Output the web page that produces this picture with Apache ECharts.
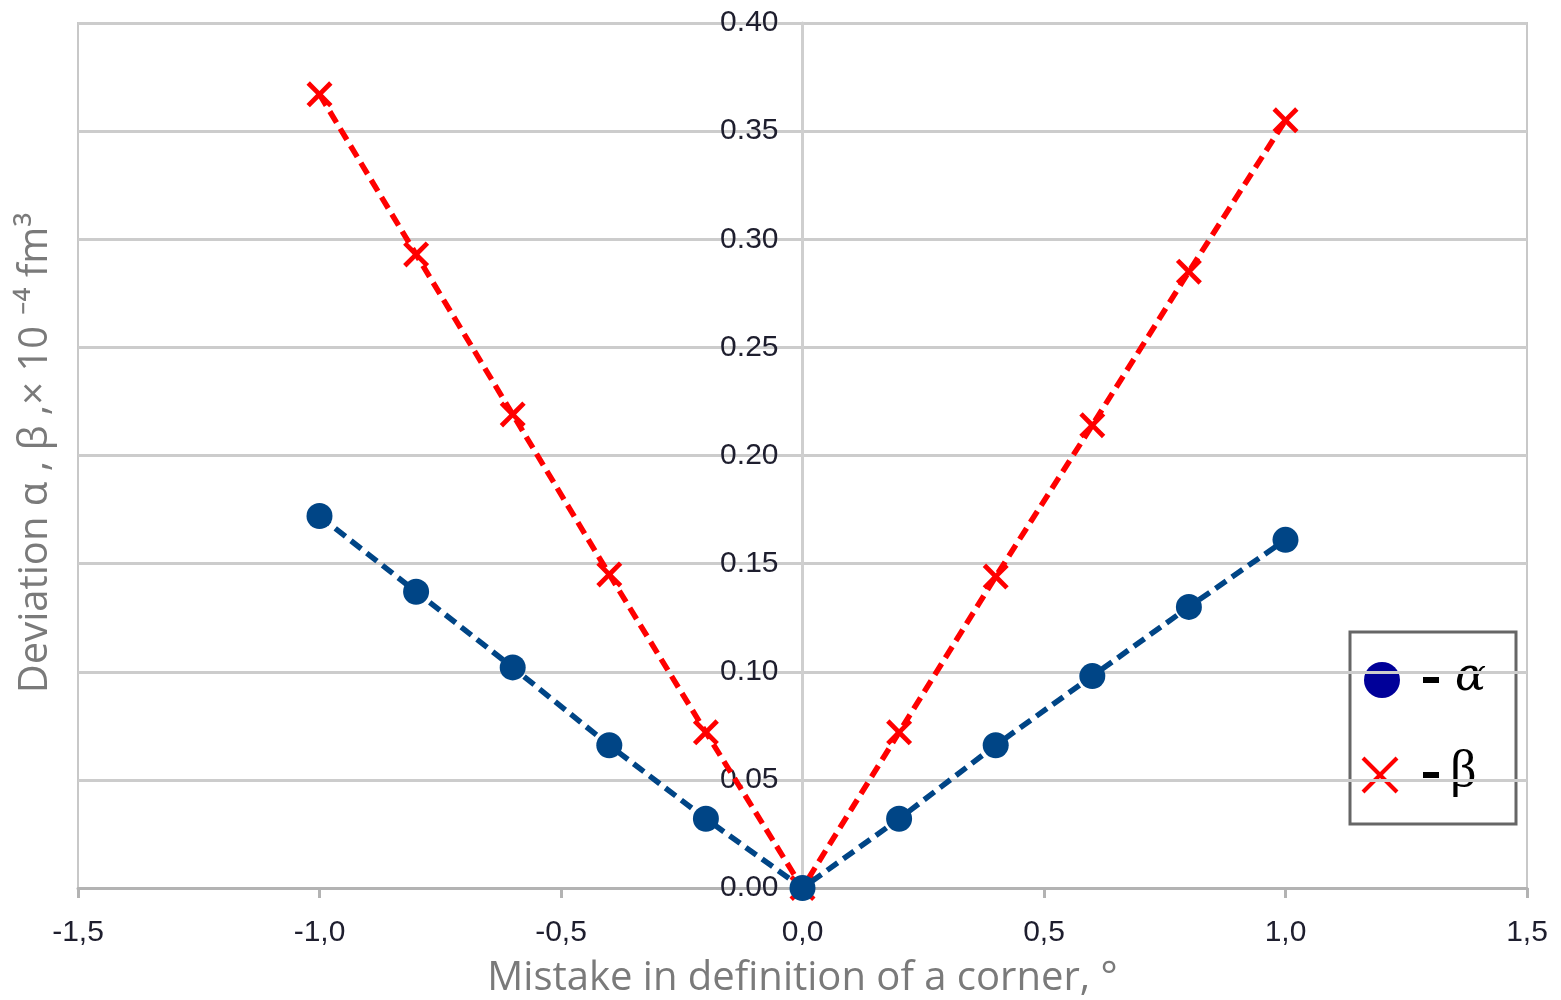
<!DOCTYPE html>
<html>
<head>
<meta charset="utf-8">
<script src="https://cdn.jsdelivr.net/npm/echarts@6/dist/echarts.min.js"></script>
<style>
  html, body { margin: 0; padding: 0; background: #fff; }
  #chart { width: 1561px; height: 1000px; }
</style>
</head>
<body>
<div id="chart"></div>
<script>
// Angle error (degrees)
const angleErrors = [-1.0, -0.8, -0.6, -0.4, -0.2, 0.0, 0.2, 0.4, 0.6, 0.8, 1.0];
// Deviation of alpha, x 10^-4 fm^3
const alphaValues = [0.172, 0.137, 0.102, 0.066, 0.032, 0.0, 0.032, 0.066, 0.098, 0.130, 0.161];
// Deviation of beta, x 10^-4 fm^3
const betaValues  = [0.367, 0.293, 0.219, 0.145, 0.072, 0.0, 0.072, 0.144, 0.214, 0.285, 0.355];

const xTickFormat = v => v.toFixed(1).replace('.', ',');
const yTickFormat = v => v.toFixed(2);

const pairs = (xs, ys) => xs.map((x, i) => [x, ys[i]]);

// filled "x" glyph used as the beta marker
const crossPath = 'path://M0,1.3L1.3,0L5,3.7L8.7,0L10,1.3L6.3,5L10,8.7L8.7,10L5,6.3L1.3,10L0,8.7L3.7,5Z';

const GRID_LEFT = 78, GRID_RIGHT = 34;
const plotWidth = 1561 - GRID_LEFT - GRID_RIGHT;

const chart = echarts.init(document.getElementById('chart'));
chart.setOption({
  animation: false,
  backgroundColor: '#ffffff',
  grid: {
    left: GRID_LEFT, right: GRID_RIGHT, top: 23, bottom: 112,
    outerBoundsMode: 'none',
    containLabel: false,
    show: true, borderColor: '#c8c8c8', borderWidth: 2
  },
  xAxis: {
    type: 'value',
    min: -1.5, max: 1.5, interval: 0.5,
    name: 'Mistake in definition of a corner, °',
    nameLocation: 'middle',
    nameGap: 71,
    nameTextStyle: { color: '#7a7a7a', fontSize: 40, fontFamily: 'Open Sans' },
    axisLine: { onZero: false, lineStyle: { color: '#b3b3b3', width: 3 } },
    axisTick: { show: true, length: 10, lineStyle: { color: '#b3b3b3', width: 3 } },
    axisLabel: { formatter: xTickFormat, color: '#1e1e2e', fontSize: 30, fontFamily: 'Liberation Sans', margin: 30 },
    splitLine: { show: false }
  },
  yAxis: {
    type: 'value',
    min: 0, max: 0.4, interval: 0.05,
    // vertical axis drawn through x = 0, in the middle of the plot
    offset: -plotWidth / 2,
    axisLine: { show: true, onZero: false, lineStyle: { color: '#cfcfcf', width: 3 } },
    axisTick: { show: false },
    axisLabel: { formatter: yTickFormat, color: '#1e1e2e', fontSize: 30, fontFamily: 'Liberation Sans', margin: 24 },
    splitLine: { show: true, lineStyle: { color: '#cccccc', width: 3 } }
  },
  graphic: [
    {
      type: 'text',
      x: 36, y: 453,
      rotation: Math.PI / 2,
      style: {
        text: 'Deviation α , β ,× 10 ⁻⁴ fm³',
        fill: '#7a7a7a',
        fontSize: 40,
        fontFamily: 'Open Sans',
        align: 'center',
        verticalAlign: 'middle'
      }
    },
    {
      type: 'group',
      x: 1350, y: 632,
      children: [
        { type: 'rect', shape: { x: 0, y: 0, width: 166, height: 192 },
          style: { fill: '#ffffff', stroke: '#666666', lineWidth: 3 } },
        { type: 'circle', shape: { cx: 32, cy: 48, r: 18 }, style: { fill: '#000099' } },
        { type: 'rect', shape: { x: 73, y: 45, width: 16, height: 6 }, style: { fill: '#000' } },
        { type: 'text', x: 105, y: 46, style: { text: 'α', fill: '#000', fontSize: 46, fontStyle: 'italic', fontFamily: 'DejaVu Serif', verticalAlign: 'middle' } },
        { type: 'line', shape: { x1: 13, y1: 126, x2: 47, y2: 160 }, style: { stroke: '#ff0000', lineWidth: 4 } },
        { type: 'line', shape: { x1: 47, y1: 126, x2: 13, y2: 160 }, style: { stroke: '#ff0000', lineWidth: 4 } },
        { type: 'rect', shape: { x: 73, y: 140, width: 16, height: 6 }, style: { fill: '#000' } },
        { type: 'text', x: 100, y: 140, style: { text: 'β', fill: '#000', fontSize: 52, fontFamily: 'Liberation Serif', verticalAlign: 'middle' } }
      ]
    }
  ],
  series: [
    {
      name: 'alpha',
      type: 'line',
      data: pairs(angleErrors, alphaValues),
      symbol: 'circle',
      symbolSize: 26,
      itemStyle: { color: '#004586' },
      lineStyle: { color: '#004586', width: 5.5, type: [13, 7] },
      z: 3
    },
    {
      name: 'beta',
      type: 'line',
      data: pairs(angleErrors, betaValues),
      symbol: crossPath,
      symbolSize: 26,
      itemStyle: { color: '#ff0000' },
      lineStyle: { color: '#ff0000', width: 5.5, type: [13, 7] },
      z: 2
    }
  ]
});
</script>
</body>
</html>
